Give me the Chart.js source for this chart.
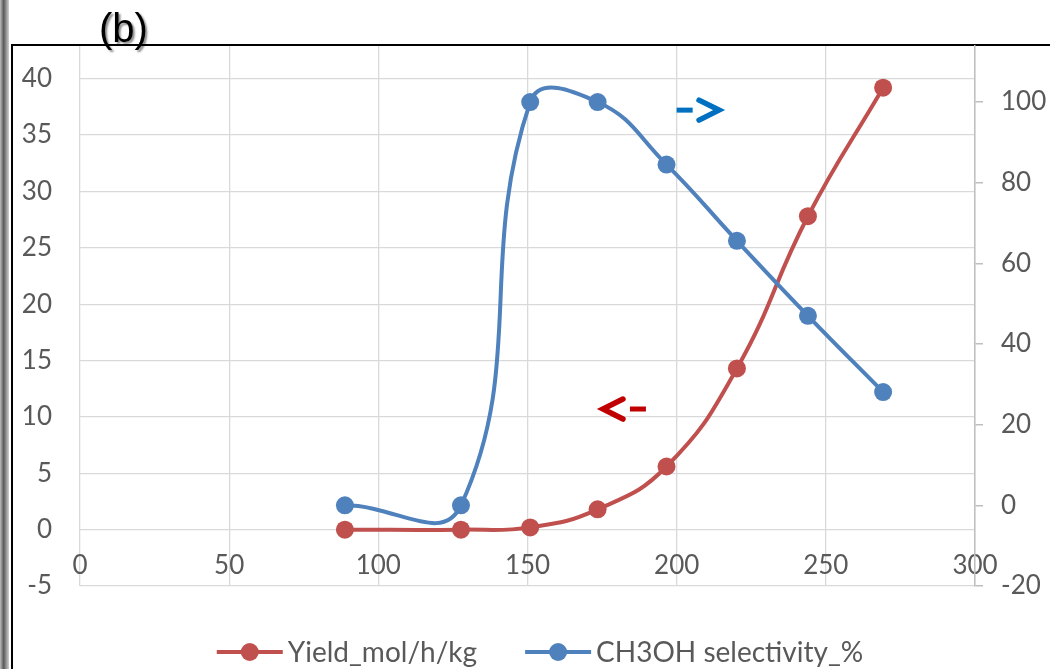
<!DOCTYPE html>
<html lang="en">
<head>
<meta charset="UTF-8">
<title>Yield and CH3OH selectivity</title>
<script src="https://cdn.jsdelivr.net/npm/chart.js"></script>
<style>
  html, body { margin: 0; padding: 0; background: #fff; }
  #wrap { width: 1050px; height: 669px; position: relative; }
</style>
</head>
<body>
<div id="wrap"><canvas id="chart"></canvas></div>
<script>
// temperature points and the two measured series
const temperature = [88.8, 127.7, 150.9, 173.5, 196.6, 220.2, 244.0, 269.2];
const yieldValues = [0, 0, 0.2, 1.8, 5.6, 14.3, 27.8, 39.2];
const selectivity = [0, 0, 100, 100, 84.5, 65.6, 47.0, 28.1];

const xTicks = [0, 50, 100, 150, 200, 250, 300];
const yieldTicks = [-5, 0, 5, 10, 15, 20, 25, 30, 35, 40];
const selectivityTicks = [-20, 0, 20, 40, 60, 80, 100];

const seriesNames = ['Yield_mol/h/kg', 'CH3OH selectivity_%'];

// arrows telling which axis each curve belongs to (x from tail to tip, y on its axis)
const yieldArrow = { tail: 189.7, tip: 175.3, y: 10.7 };
const selectivityArrow = { tail: 200, tip: 214.2, y: 98.0 };

const RED = '#C0504D';
const BLUE = '#4F81BD';
const GRID = '#D9D9D9';
const TEXT = '#595959';
const tickFont = { family: 'Lato', size: 26 };

const toPoints = (xs, ys) => xs.map((x, i) => ({ x: x, y: ys[i] }));
const setTicks = list => scale => { scale.ticks = list.map(v => ({ value: v })); };

function drawArrow(ctx, x0, x1, y, color) {
  const dir = Math.sign(x1 - x0);
  ctx.save();
  ctx.strokeStyle = color;
  ctx.lineWidth = 5;
  ctx.lineCap = 'butt';
  ctx.beginPath();
  ctx.moveTo(x0, y);
  ctx.lineTo(x0 + dir * 16, y);
  ctx.stroke();
  ctx.lineCap = 'round';
  ctx.lineJoin = 'miter';
  ctx.lineWidth = 5.5;
  ctx.beginPath();
  ctx.moveTo(x1 - dir * 20, y - 10);
  ctx.lineTo(x1, y);
  ctx.lineTo(x1 - dir * 20, y + 10);
  ctx.stroke();
  ctx.restore();
}

const decorations = {
  id: 'decorations',
  beforeDraw(chart) {
    const ctx = chart.ctx;
    ctx.save();
    ctx.fillStyle = '#fff';
    ctx.fillRect(0, 0, chart.width, chart.height);
    // scanned edge on the left
    const g = ctx.createLinearGradient(0, 0, 9, 0);
    g.addColorStop(0, '#bdbdbd');
    g.addColorStop(0.4, '#5a5a5a');
    g.addColorStop(1, '#d0d0d0');
    ctx.fillStyle = g;
    ctx.fillRect(0, 0, 9, chart.height);
    // frame
    ctx.strokeStyle = '#000';
    ctx.lineWidth = 2;
    ctx.beginPath();
    ctx.moveTo(12, chart.height);
    ctx.lineTo(12, 45);
    ctx.lineTo(chart.width, 45);
    ctx.stroke();
    ctx.restore();
  },
  afterDraw(chart) {
    const ctx = chart.ctx;
    const { x, y, y1 } = chart.scales;

    drawArrow(ctx, x.getPixelForValue(yieldArrow.tail), x.getPixelForValue(yieldArrow.tip),
      y.getPixelForValue(yieldArrow.y), '#C00000');
    drawArrow(ctx, x.getPixelForValue(selectivityArrow.tail), x.getPixelForValue(selectivityArrow.tip),
      y1.getPixelForValue(selectivityArrow.y), '#0070C0');

    // panel label
    ctx.save();
    ctx.font = '40px "Liberation Sans", Arial, sans-serif';
    ctx.fillStyle = '#000';
    ctx.shadowColor = 'rgba(0,0,0,0.45)';
    ctx.shadowOffsetX = 2;
    ctx.shadowOffsetY = 2;
    ctx.shadowBlur = 2;
    ctx.textBaseline = 'alphabetic';
    ctx.fillText('(b)', 99, 42);
    ctx.restore();

    // legend: line with marker, then name
    ctx.save();
    ctx.font = '28px Lato, sans-serif';
    ctx.textBaseline = 'middle';
    const lineLen = 66, gap = 5, itemGap = 48, ly = 652;
    const items = chart.data.datasets.map(ds => ({
      label: ds.label, color: ds.borderColor, w: ctx.measureText(ds.label).width
    }));
    const total = items.reduce((s, it) => s + lineLen + gap + it.w, 0) + itemGap * (items.length - 1);
    let cx = 540 - total / 2;
    items.forEach(it => {
      ctx.strokeStyle = it.color;
      ctx.lineWidth = 4;
      ctx.beginPath();
      ctx.moveTo(cx, ly);
      ctx.lineTo(cx + lineLen, ly);
      ctx.stroke();
      ctx.fillStyle = it.color;
      ctx.beginPath();
      ctx.arc(cx + lineLen / 2, ly, 9, 0, Math.PI * 2);
      ctx.fill();
      ctx.fillStyle = TEXT;
      ctx.fillText(it.label, cx + lineLen + gap, ly + 1);
      cx += lineLen + gap + it.w + itemGap;
    });
    ctx.restore();
  }
};

new Chart(document.getElementById('chart'), {
  type: 'scatter',
  data: {
    datasets: [{
      label: seriesNames[0],
      data: toPoints(temperature, yieldValues),
      yAxisID: 'y',
      showLine: true,
      tension: 0.45,
      borderColor: RED,
      backgroundColor: RED,
      borderWidth: 4,
      pointRadius: 9,
      pointBorderWidth: 0,
      order: 1
    }, {
      label: seriesNames[1],
      data: toPoints(temperature, selectivity),
      yAxisID: 'y1',
      showLine: true,
      tension: 0.45,
      borderColor: BLUE,
      backgroundColor: BLUE,
      borderWidth: 4,
      pointRadius: 9,
      pointBorderWidth: 0,
      order: 0
    }]
  },
  options: {
    responsive: true,
    maintainAspectRatio: false,
    animation: false,
    layout: { padding: { top: 46, bottom: 83, left: 0, right: 0 } },
    plugins: {
      legend: { display: false },
      tooltip: { enabled: false }
    },
    scales: {
      x: {
        type: 'linear',
        min: 0,
        max: 300,
        position: { y: 0 },
        afterBuildTicks: setTicks(xTicks),
        grid: { color: GRID, lineWidth: 1.3, drawTicks: false },
        border: { display: false },
        ticks: { font: tickFont, color: TEXT, padding: 20, maxRotation: 0 }
      },
      y: {
        position: 'left',
        min: -5,
        max: 42.9,
        afterBuildTicks: setTicks(yieldTicks),
        afterFit: s => { s.width = 80; },
        grid: { color: GRID, lineWidth: 1.3, drawTicks: false },
        border: { display: false },
        ticks: { font: tickFont, color: TEXT, padding: 28 }
      },
      y1: {
        position: 'right',
        min: -20,
        max: 113.9,
        afterBuildTicks: setTicks(selectivityTicks),
        afterFit: s => { s.width = 75; },
        grid: { drawOnChartArea: false, color: '#BFBFBF', tickLength: 8, lineWidth: 1.5 },
        border: { color: '#BFBFBF', width: 1.5 },
        ticks: { font: tickFont, color: TEXT, padding: 18 }
      }
    }
  },
  plugins: [decorations]
});
</script>
</body>
</html>
